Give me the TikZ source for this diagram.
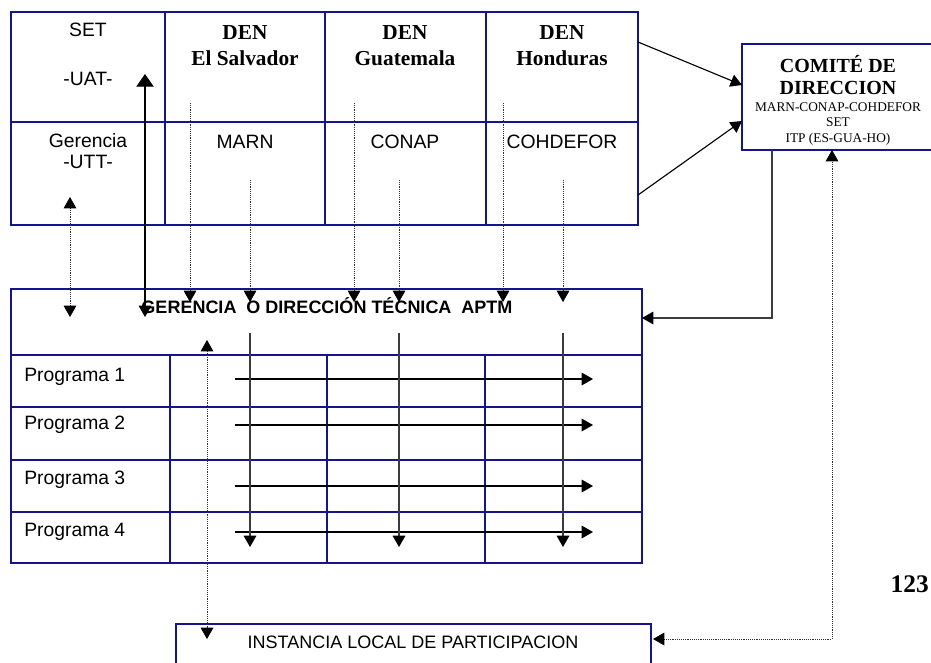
\documentclass[tikz,border=0pt]{standalone}
\usepackage{fontspec}
\setmainfont{Liberation Serif}
\setsansfont{Liberation Sans}
\usetikzlibrary{arrows.meta}
\definecolor{Bc}{HTML}{14148C}
\definecolor{Gc}{HTML}{3C3C3C}
\definecolor{Dc}{HTML}{303030}
\tikzset{
  frame/.style={draw=Bc, line width=1.1pt},
  cframe/.style={draw=Bc, line width=1.9pt},
  link/.style={-{Triangle[length=8.5pt,width=9.5pt,color=black]}, line width=0.85pt},
  dlink/.style={-{Triangle[length=8.5pt,width=9.5pt,color=black]}, draw=Dc, line width=0.55pt, dash pattern=on 0.7pt off 0.7pt},
  dblink/.style={{Triangle[length=8.5pt,width=9.5pt,color=black]}-{Triangle[length=8.5pt,width=9.5pt,color=black]}, draw=Dc, line width=0.55pt, dash pattern=on 0.7pt off 0.7pt},
  sftxt/.style={anchor=base, inner sep=0pt, font=\sffamily\fontsize{14.5}{17}\selectfont},
  progtxt/.style={anchor=base west, inner sep=0pt, font=\sffamily\fontsize{14.5}{17}\selectfont},
  dentxt/.style={anchor=base, inner sep=0pt, font=\bfseries\fontsize{16}{19}\selectfont},
  comtxt/.style={anchor=base, inner sep=0pt, font=\bfseries\fontsize{15}{18}\selectfont},
  comsub/.style={anchor=base, inner sep=0pt, font=\fontsize{10}{12}\selectfont},
  titletxt/.style={anchor=base, inner sep=0pt, font=\sffamily\bfseries\fontsize{13.5}{16}\selectfont},
}

\begin{document}
\begin{tikzpicture}[x=0.75pt, y=-0.75pt]
  \useasboundingbox (0,0) rectangle (931,662);
  % upper table: SET and the three DEN
  \draw[frame] (11,12) rectangle (638,225);
  \draw[frame] (11,122) -- (638,122);
  \foreach \cx in {165,325,486} \draw[frame] (\cx,12) -- (\cx,225);
  \node[sftxt] (set) at (88,36) {SET};
  \node[sftxt] (uat) at (88,85) {-UAT-};
  \node[sftxt] (ger) at (88,147) {Gerencia};
  \node[sftxt] (utt) at (88,168) {-UTT-};
  \foreach \cx/\nm/\cty/\org in {245/sv/El Salvador/MARN, 405/gt/Guatemala/CONAP, 562/hn/Honduras/COHDEFOR} {
    \node[dentxt] (den\nm) at (\cx,39) {DEN};
    \node[dentxt] (ctry\nm) at (\cx,65) {\cty};
    \node[sftxt] (org\nm) at (\cx,148) {\org};
  }
  % comite
  \draw[cframe] (742,44) rectangle (945,150);
  \node[comtxt] (com1) at (838,72) {COMITÉ DE};
  \node[comtxt] (com2) at (838,94) {DIRECCION};
  \node[comsub] (com3) at (838,111) {MARN-CONAP-COHDEFOR};
  \node[comsub] (com4) at (838,126) {SET};
  \node[comsub] (com5) at (838,142) {ITP (ES-GUA-HO)};
  % gerencia and programas
  \draw[frame] (11,289) rectangle (642,563);
  \foreach \ry in {355,407,460,512} \draw[frame] (11,\ry) -- (642,\ry);
  \foreach \cx in {170,327,485} \draw[frame] (\cx,355) -- (\cx,563);
  \node[titletxt] (gtitle) at (327,313) {GERENCIA\ \ O DIRECCIÓN TÉCNICA\ \ APTM};
  \foreach \i/\by in {1/381,2/429,3/484,4/536}
    \node[progtxt] (prog\i) at (24,\by) {Programa \i};
  % instancia local
  \draw[frame] (176,680) -- (176,624) -- (651,624) -- (651,680);
  \node[sftxt, font=\sffamily\fontsize{13.5}{16}\selectfont] (inst) at (413,648) {INSTANCIA LOCAL DE PARTICIPACION};
  \node[anchor=base east, inner sep=0pt, font=\bfseries\fontsize{19}{22}\selectfont] (pnum) at (929,592) {123};
  % connectors
  \coordinate (tt1) at (638,42);
  \coordinate (tt2) at (638,195);
  \coordinate (cm1) at (742,85);
  \coordinate (cm2) at (742,121);
  \draw[link] (tt1) -- (cm1);
  \draw[link] (tt2) -- (cm2);
  \coordinate (cmB) at (772,150);
  \coordinate (gR) at (642,318);
  \draw[link, draw=Gc] (cmB) |- (gR);
  \coordinate (cmC) at (832,150);
  \coordinate (inR) at (653,639);
  \draw[dblink] (inR) -| (cmC);
  \coordinate (lu) at (70,197);
  \coordinate (ld) at (70,317);
  \draw[dblink] (lu) -- (ld);
  \coordinate (su) at (145,74);
  \coordinate (sd) at (145,317);
  \draw[{Triangle[length=9.5pt,width=13pt]}-{Triangle[length=8.5pt,width=9.5pt]}, line width=0.85pt] (su) -- (sd);
  \foreach \i/\xa/\ya in {1/190/103, 2/250/180, 3/354/103, 4/399/180, 5/503/103, 6/563/180} {
    \coordinate (ds\i) at (\xa,\ya);
    \coordinate (de\i) at (\xa,302);
    \draw[dlink] (ds\i) -- (de\i);
  }
  \coordinate (gu) at (207,340);
  \coordinate (gd) at (207,639);
  \draw[dblink] (gu) -- (gd);
  \foreach \i/\hy in {1/379,2/425,3/486,4/532} {
    \coordinate (hs\i) at (235,\hy);
    \coordinate (he\i) at (593,\hy);
    \draw[link] (hs\i) -- (he\i);
  }
  \foreach \i/\xa in {1/250,2/399,3/563} {
    \coordinate (vs\i) at (\xa,333);
    \coordinate (ve\i) at (\xa,547);
    \draw[link, draw=Gc] (vs\i) -- (ve\i);
  }
\end{tikzpicture}
\end{document}
